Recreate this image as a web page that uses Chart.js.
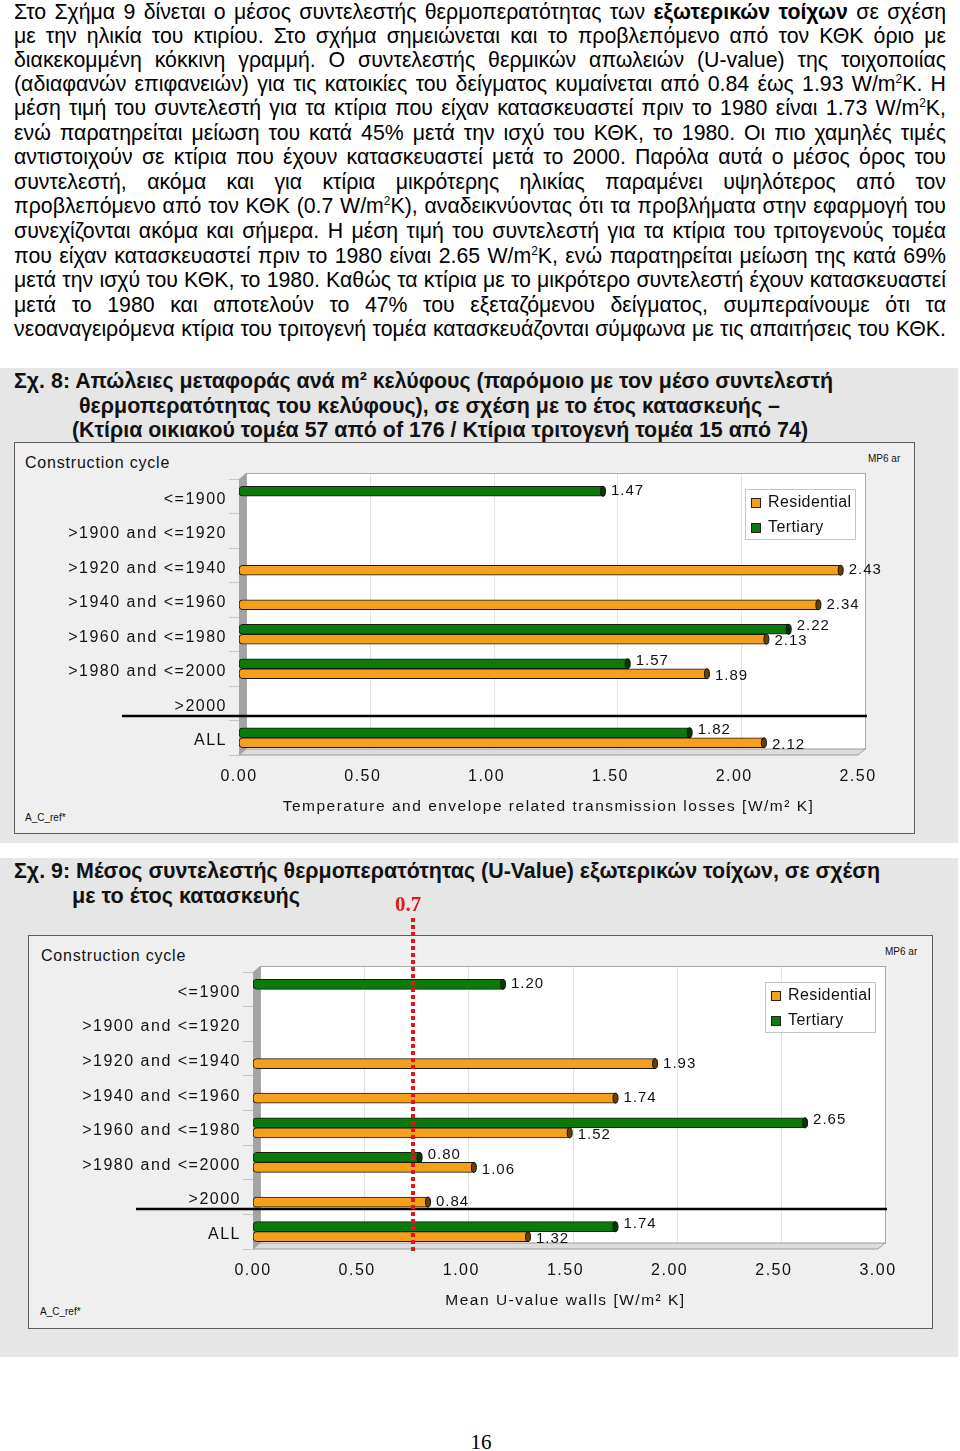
<!DOCTYPE html>
<html>
<head>
<meta charset="utf-8">
<script src="https://cdn.jsdelivr.net/npm/chart.js@4.4.1/dist/chart.umd.min.js"></script>
<style>
  body { margin: 0; background: #fff; width: 960px; height: 1451px; position: relative; overflow: hidden;
         font-family: "Liberation Sans", Arial, sans-serif; color: #000; }
  .ln { position: absolute; left: 14px; width: 932px; height: 25px; line-height: 25px; font-size: 21.5px;
        text-align: justify; text-align-last: justify; transform-origin: 0 0; }
  .ln sup { font-size: 12px; line-height: 0; vertical-align: 8px; }
  .probe { position: absolute; left: 0; top: -100px; white-space: nowrap; font-size: 21.5px; visibility: hidden; }
  .panel { position: absolute; left: 0; width: 958px; background: #e6e6e6; }
  .ttl { position: absolute; font-weight: bold; font-size: 22px; line-height: 24px; white-space: nowrap;
         color: #111; transform-origin: 0 0; }
  .box { position: absolute; border: 1px solid #5c5c5c; background: #efefef; box-sizing: border-box; }
  .sm { position: absolute; white-space: nowrap; color: #111; }
  .cc { font-size: 16px; letter-spacing: 0.8px; }
  .tiny { font-size: 10px; }
  canvas { position: absolute; }
  .pg { position: absolute; left: 0; width: 962px; top: 1430px; text-align: center;
        font-family: "Liberation Serif", serif; font-size: 21px; }
</style>
</head>
<body>

<div class="ln" style="top:0px">Στο Σχήμα 9 δίνεται ο μέσος συντελεστής θερμοπερατότητας των <b>εξωτερικών τοίχων</b> σε σχέση</div>
<div class="ln" style="top:24px">με την ηλικία του κτιρίου. Στο σχήμα σημειώνεται και το προβλεπόμενο από τον ΚΘΚ όριο με</div>
<div class="ln" style="top:48px">διακεκομμένη κόκκινη γραμμή. Ο συντελεστής θερμικών απωλειών (U-value) της τοιχοποιίας</div>
<div class="ln" style="top:72px">(αδιαφανών επιφανειών) για τις κατοικίες του δείγματος κυμαίνεται από 0.84 έως 1.93 W/m<sup>2</sup>K. Η</div>
<div class="ln" style="top:96px">μέση τιμή του συντελεστή για τα κτίρια που είχαν κατασκευαστεί πριν το 1980 είναι 1.73 W/m<sup>2</sup>K,</div>
<div class="ln" style="top:121px">ενώ παρατηρείται μείωση του κατά 45% μετά την ισχύ του ΚΘΚ, το 1980. Οι πιο χαμηλές τιμές</div>
<div class="ln" style="top:145px">αντιστοιχούν σε κτίρια που έχουν κατασκευαστεί μετά το 2000. Παρόλα αυτά ο μέσος όρος του</div>
<div class="ln" style="top:170px">συντελεστή, ακόμα και για κτίρια μικρότερης ηλικίας παραμένει υψηλότερος από τον</div>
<div class="ln" style="top:194px">προβλεπόμενο από τον ΚΘΚ (0.7 W/m<sup>2</sup>K), αναδεικνύοντας ότι τα προβλήματα στην εφαρμογή του</div>
<div class="ln" style="top:219px">συνεχίζονται ακόμα και σήμερα. Η μέση τιμή του συντελεστή για τα κτίρια του τριτογενούς τομέα</div>
<div class="ln" style="top:244px">που είχαν κατασκευαστεί πριν το 1980 είναι 2.65 W/m<sup>2</sup>K, ενώ παρατηρείται μείωση της κατά 69%</div>
<div class="ln" style="top:268px">μετά την ισχύ του ΚΘΚ, το 1980. Καθώς τα κτίρια με το μικρότερο συντελεστή έχουν κατασκευαστεί</div>
<div class="ln" style="top:293px">μετά το 1980 και αποτελούν το 47% του εξεταζόμενου δείγματος, συμπεραίνουμε ότι τα</div>
<div class="ln" style="top:317px">νεοαναγειρόμενα κτίρια του τριτογενή τομέα κατασκευάζονται σύμφωνα με τις απαιτήσεις του ΚΘΚ.</div>

<!-- figure 8 -->
<div class="panel" style="top:368px;height:475px"></div>
<div class="ttl" data-w="819" style="left:14px;top:369px">Σχ. 8: Απώλειες μεταφοράς ανά m² κελύφους (παρόμοιο με τον μέσο συντελεστή</div>
<div class="ttl" data-w="701" style="left:79px;top:394px">θερμοπερατότητας του κελύφους), σε σχέση με το έτος κατασκευής –</div>
<div class="ttl" data-w="736" style="left:72px;top:418px">(Κτίρια οικιακού τομέα 57 από of 176 / Κτίρια τριτογενή τομέα 15 από 74)</div>
<div class="box" style="left:14px;top:442px;width:901px;height:392px"></div>
<div class="sm cc" style="left:25px;top:454px">Construction cycle</div>
<div class="sm tiny" style="left:868px;top:453px">MP6 ar</div>
<div class="sm tiny" style="left:25px;top:812px">A_C_ref*</div>
<canvas id="c1" width="900" height="391" style="left:14px;top:442px"></canvas>

<!-- figure 9 -->
<div class="panel" style="top:858px;height:499px"></div>
<div class="ttl" data-w="866" style="left:14px;top:859px">Σχ. 9: Μέσος συντελεστής θερμοπερατότητας (U-Value) εξωτερικών τοίχων, σε σχέση</div>
<div class="ttl" data-w="228" style="left:72px;top:884px">με το έτος κατασκευής</div>
<div class="box" style="left:28px;top:935px;width:905px;height:394px"></div>
<div class="sm cc" style="left:41px;top:947px">Construction cycle</div>
<div class="sm tiny" style="left:885px;top:946px">MP6 ar</div>
<div class="sm tiny" style="left:40px;top:1306px">A_C_ref*</div>
<canvas id="c2" width="904" height="438" style="left:28px;top:890px"></canvas>

<div class="pg">16</div>

<script>
// squeeze the bold captions to the narrow widths of the original
document.querySelectorAll('.ttl').forEach(function (el) {
  var w = el.getBoundingClientRect().width;
  el.style.transform = 'scaleX(' + (el.dataset.w / w) + ')';
});

// narrow body text: find the densest line, squeeze all lines by the same factor
(function () {
  var lines = document.querySelectorAll('.ln');
  var maxW = 0;
  lines.forEach(function (el) {
    var p = document.createElement('span');
    p.className = 'probe';
    p.innerHTML = el.innerHTML;
    document.body.appendChild(p);
    maxW = Math.max(maxW, p.getBoundingClientRect().width);
    p.remove();
  });
  var s = 928 / maxW;
  lines.forEach(function (el) {
    el.style.width = (932 / s) + 'px';
    el.style.transform = 'scaleX(' + s + ')';
  });
})();

// construction periods (same rows in both figures)
var categories = ['<=1900', '>1900 and <=1920', '>1920 and <=1940', '>1940 and <=1960',
                  '>1960 and <=1980', '>1980 and <=2000', '>2000', 'ALL'];
var seriesNames = ['Residential', 'Tertiary'];

// Fig. 8: transmission losses per m2 of envelope
var lossResidential = [null, null, 2.43, 2.34, 2.13, 1.89, null, 2.12];
var lossTertiary    = [1.47, null, null, null, 2.22, 1.57, null, 1.82];
var lossTicks = [0, 0.5, 1, 1.5, 2, 2.5];

// Fig. 9: mean U-value of external walls
var uResidential = [null, null, 1.93, 1.74, 1.52, 1.06, 0.84, 1.32];
var uTertiary    = [1.20, null, null, null, 2.65, 0.80, null, 1.74];
var uTicks = [0, 0.5, 1, 1.5, 2, 2.5, 3];

// KThK limit line, as drawn in the figure
var limitLabel = '0.7';
var limitAt = 0.77;

var ORANGE = '#f5a01c', GREEN = '#0b7a0b';
var FONT = '"Liberation Sans", Arial, sans-serif';

Chart.defaults.font.family = FONT;
Chart.defaults.font.size = 16;
Chart.defaults.color = '#111';

var DX = 7, DY = -6;   // 3d depth of the plot box

function capColor(c) { return c === ORANGE ? '#6b3f00' : '#053805'; }

var box3d = {
  id: 'box3d',
  beforeDraw: function (chart) {
    chart.ctx.letterSpacing = '1.5px';
  },
  beforeDatasetsDraw: function (chart) {
    var ctx = chart.ctx, a = chart.chartArea, x = chart.scales.x;
    ctx.save();
    // back wall
    ctx.fillStyle = '#fff';
    ctx.fillRect(a.left + DX, a.top + DY, a.right - a.left, a.bottom - a.top);
    ctx.strokeStyle = '#e2e2e2';
    ctx.lineWidth = 1;
    x.ticks.forEach(function (t) {
      var px = Math.round(x.getPixelForValue(t.value) + DX) + 0.5;
      ctx.beginPath(); ctx.moveTo(px, a.top + DY); ctx.lineTo(px, a.bottom + DY); ctx.stroke();
    });
    ctx.strokeStyle = '#a9a9a9';
    ctx.strokeRect(a.left + DX + 0.5, a.top + DY + 0.5, a.right - a.left, a.bottom - a.top);
    // floor
    ctx.fillStyle = '#dcdcdc';
    ctx.beginPath();
    ctx.moveTo(a.left, a.bottom); ctx.lineTo(a.left + DX, a.bottom + DY);
    ctx.lineTo(a.right + DX, a.bottom + DY); ctx.lineTo(a.right, a.bottom); ctx.closePath();
    ctx.fill();
    ctx.strokeStyle = '#9a9a9a'; ctx.stroke();
    // left wall
    ctx.fillStyle = '#a3a3a3';
    ctx.beginPath();
    ctx.moveTo(a.left, a.top); ctx.lineTo(a.left + DX, a.top + DY);
    ctx.lineTo(a.left + DX, a.bottom + DY); ctx.lineTo(a.left, a.bottom); ctx.closePath();
    ctx.fill();
    ctx.restore();
  },
  afterDatasetsDraw: function (chart) {
    var ctx = chart.ctx, a = chart.chartArea, y = chart.scales.y, x = chart.scales.x;
    var opts = chart.options.plugins.box3d || {};
    ctx.save();

    // bar end caps and value labels
    chart.data.datasets.forEach(function (ds, di) {
      var meta = chart.getDatasetMeta(di);
      meta.data.forEach(function (bar, i) {
        var v = ds.data[i];
        if (v == null) return;
        ctx.fillStyle = capColor(ds.backgroundColor);
        ctx.strokeStyle = '#111';
        ctx.lineWidth = 1;
        ctx.beginPath();
        ctx.ellipse(bar.x, bar.y, 2.5, bar.height / 2, 0, 0, Math.PI * 2);
        ctx.fill(); ctx.stroke();

        var paired = chart.data.datasets.every(function (d) { return d.data[i] != null; });
        var dy = 0;
        if (paired) dy = di === 0 ? -3 : 2;
        ctx.letterSpacing = '1px';
        ctx.fillStyle = '#111';
        ctx.font = '15px ' + FONT;
        ctx.textAlign = 'left';
        ctx.textBaseline = 'middle';
        ctx.fillText(v.toFixed(2), bar.x + 8, bar.y + dy);
      });
    });

    // separator above "ALL"
    var sepY = Math.round((y.getPixelForValue(6) + y.getPixelForValue(7)) / 2 + DY + 1);
    ctx.strokeStyle = '#000';
    ctx.lineWidth = 2.5;
    ctx.beginPath();
    ctx.moveTo(a.left - 117, sepY); ctx.lineTo(a.right + DX + 2, sepY);
    ctx.stroke();

    // legend box inside the plot
    var lw = 110, lh = 50, lx = a.right - 3 - lw, ly = a.top + 10;
    ctx.fillStyle = '#fff';
    ctx.fillRect(lx, ly, lw, lh);
    ctx.strokeStyle = '#c4c4c4'; ctx.lineWidth = 1;
    ctx.strokeRect(lx + 0.5, ly + 0.5, lw, lh);
    ctx.letterSpacing = '0.4px';
    [1, 0].forEach(function (di, k) {
      var ds = chart.data.datasets[di];
      var cy = ly + 14 + k * 25;
      ctx.fillStyle = ds.backgroundColor;
      ctx.fillRect(lx + 6, cy - 5, 10, 10);
      ctx.strokeStyle = '#222';
      ctx.strokeRect(lx + 6.5, cy - 4.5, 9, 9);
      ctx.fillStyle = '#111';
      ctx.font = '16px ' + FONT;
      ctx.textAlign = 'left'; ctx.textBaseline = 'middle';
      ctx.fillText(ds.label, lx + 23, cy);
    });

    // limit line (fig. 9 only)
    if (opts.limitAt != null) {
      var lxp = Math.round(x.getPixelForValue(opts.limitAt));
      ctx.strokeStyle = '#e5131b';
      ctx.lineWidth = 4;
      ctx.setLineDash([4, 3]);
      ctx.beginPath();
      ctx.moveTo(lxp, 28); ctx.lineTo(lxp, a.bottom + 2);
      ctx.stroke();
      ctx.setLineDash([]);
      ctx.letterSpacing = '0px';
      ctx.fillStyle = '#e01a1a';
      ctx.font = 'bold 21px "Liberation Serif", serif';
      ctx.textAlign = 'center'; ctx.textBaseline = 'middle';
      ctx.fillText(opts.limitLabel, lxp - 5, 16);
    }
    ctx.restore();
  }
};

function makeChart(id, res, ter, ticks, xTitle, pad, xHeight, titlePad, extra) {
  return new Chart(document.getElementById(id), {
    type: 'bar',
    data: {
      labels: categories,
      datasets: [
        { label: seriesNames[1], data: ter, backgroundColor: GREEN },
        { label: seriesNames[0], data: res, backgroundColor: ORANGE }
      ]
    },
    options: {
      indexAxis: 'y',
      responsive: false,
      animation: false,
      devicePixelRatio: 1,
      layout: { padding: pad },
      datasets: {
        bar: {
          barThickness: 10,
          borderWidth: 1,
          borderColor: '#1a1a1a',
          borderSkipped: false,
          borderRadius: { topLeft: 4, bottomLeft: 4, topRight: 0, bottomRight: 0 }
        }
      },
      scales: {
        x: {
          min: ticks[0],
          max: ticks[ticks.length - 1],
          afterBuildTicks: function (s) { s.ticks = ticks.map(function (v) { return { value: v }; }); },
          grid: { display: false },
          border: { display: false },
          ticks: { padding: 4, callback: function (v) { return Number(v).toFixed(2); } },
          title: { display: true, text: xTitle, font: { size: 15.5 }, padding: { top: 0, bottom: titlePad } },
          afterFit: function (s) { s.height = xHeight; }
        },
        y: {
          grid: { offset: true, drawOnChartArea: false, tickLength: 10, color: '#c6c6c6' },
          border: { display: false },
          ticks: { padding: 2, labelOffset: 3, autoSkip: false },
          afterFit: function (s) { s.width = 225; }
        }
      },
      plugins: {
        legend: { display: false },
        tooltip: { enabled: false },
        box3d: extra || {}
      }
    },
    plugins: [box3d]
  });
}

makeChart('c1', lossResidential, lossTertiary, lossTicks,
  'Temperature and envelope related transmission losses [W/m\u00b2 K]',
  { left: 0, top: 37, right: 56, bottom: 0 }, 78, 17);

makeChart('c2', uResidential, uTertiary, uTicks,
  'Mean U-value walls [W/m\u00b2 K]',
  { left: 0, top: 82, right: 54, bottom: 0 }, 79, 18,
  { limitAt: limitAt, limitLabel: limitLabel });
</script>
</body>
</html>
